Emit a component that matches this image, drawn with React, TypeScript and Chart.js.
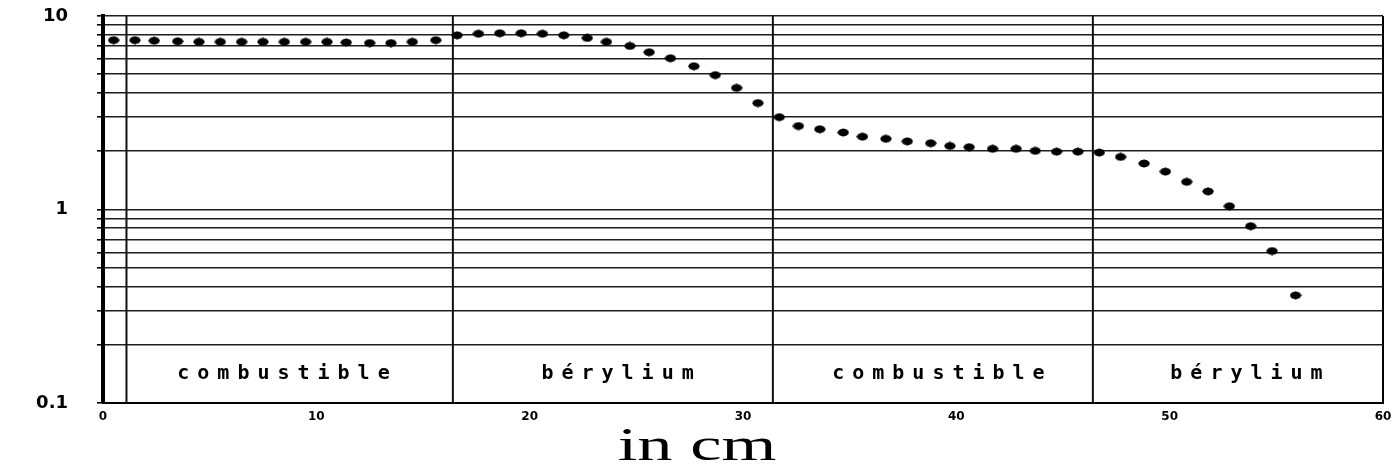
import { useEffect, useRef } from 'react';
import { Chart, registerables } from 'chart.js';

Chart.register(...registerables);

// Position along the core (cm)
const positionsCm = [
  0.5, 1.5, 2.4, 3.5, 4.5, 5.5, 6.5, 7.5, 8.5, 9.5, 10.5, 11.4, 12.5, 13.5, 14.5, 15.6,
  16.6, 17.6, 18.6, 19.6, 20.6, 21.6, 22.7, 23.6, 24.7, 25.6,
  26.6, 27.7, 28.7, 29.7, 30.7, 31.7, 32.6, 33.6, 34.7, 35.6,
  36.7, 37.7, 38.8, 39.7, 40.6, 41.7, 42.8, 43.7, 44.7, 45.7,
  46.7, 47.7, 48.8, 49.8, 50.8, 51.8, 52.8, 53.8, 54.8, 55.9,
];

// Measured values (log scale)
const values = [
  7.5, 7.5, 7.45, 7.4, 7.35, 7.35, 7.35, 7.35, 7.35, 7.35, 7.35, 7.3, 7.25, 7.25, 7.35, 7.5,
  7.95, 8.1, 8.15, 8.15, 8.1, 7.95, 7.7, 7.35, 7.0, 6.5,
  6.05, 5.5, 4.95, 4.25, 3.55, 3.0, 2.7, 2.6, 2.5, 2.38,
  2.32, 2.25, 2.2, 2.13, 2.1, 2.06, 2.06, 2.01, 1.99, 1.99,
  1.97, 1.87, 1.73, 1.57, 1.39, 1.24, 1.04, 0.82, 0.61, 0.36,
];

// Region boundaries (cm) and region labels
const boundariesCm = [1.1, 16.4, 31.4, 46.4];
const regionLabels = ['combustible', 'bérylium', 'combustible', 'bérylium'];
const regionLabelCm = [8.46, 24.12, 39.16, 53.6];
const regionLabelValue = 0.133;

// Axes
const yGridValues = [0.1, 0.2, 0.3, 0.4, 0.5, 0.6, 0.7, 0.8, 0.9, 1, 2, 3, 4, 5, 6, 7, 8, 9, 10];
const yLabelledValues = [0.1, 1, 10];
const xTickValues = [0, 10, 20, 30, 40, 50, 60];
const xTitle = 'in cm';

function makeMarker(): HTMLCanvasElement {
  const c = document.createElement('canvas');
  c.width = 12;
  c.height = 9;
  const g = c.getContext('2d')!;
  g.fillStyle = '#000';
  g.beginPath();
  g.ellipse(6, 4.5, 5.5, 3.8, 0, 0, Math.PI * 2);
  g.fill();
  g.beginPath();
  g.moveTo(0.2, 4.5);
  g.lineTo(6, 0.3);
  g.lineTo(11.8, 4.5);
  g.lineTo(6, 8.7);
  g.closePath();
  g.fill();
  return c;
}

const annotationPlugin = {
  id: 'annotationPlugin',
  afterDatasetsDraw(chart: any) {
    const { ctx, scales } = chart;
    const xs = scales.x;
    const ys = scales.y;
    ctx.save();
    ctx.fillStyle = '#000';
    ctx.font = 'bold 20px "DejaVu Sans Mono"';
    ctx.textAlign = 'center';
    ctx.textBaseline = 'alphabetic';
    const spacing = 8;
    (ctx as any).letterSpacing = spacing + 'px';
    regionLabels.forEach((label, i) => {
      const px = xs.getPixelForValue(regionLabelCm[i]);
      const py = ys.getPixelForValue(regionLabelValue);
      ctx.fillText(label, px + spacing / 2, py);
    });
    ctx.restore();
  },
  afterDraw(chart: any) {
    const { ctx } = chart;
    ctx.save();
    ctx.fillStyle = '#000';
    ctx.font = '47px "Liberation Serif"';
    ctx.textAlign = 'center';
    ctx.textBaseline = 'alphabetic';
    ctx.translate(697, 460);
    ctx.scale(1.5, 1);
    ctx.fillText(xTitle, 0, 0);
    ctx.restore();
  },
};

export default function App() {
  const canvasRef = useRef<HTMLCanvasElement | null>(null);

  useEffect(() => {
    const canvas = canvasRef.current;
    if (!canvas) return;
    const marker = makeMarker();

    const points = positionsCm.map((x, i) => ({ x, y: values[i] }));
    const boundaryDatasets = boundariesCm.map((b) => ({
      data: [
        { x: b, y: 0.1 },
        { x: b, y: 10 },
      ],
      showLine: true,
      borderColor: '#111',
      borderWidth: 2,
      pointRadius: 0,
      pointHoverRadius: 0,
    }));

    const chart = new Chart(canvas, {
      type: 'scatter',
      data: {
        datasets: [
          {
            data: points,
            pointStyle: marker as any,
            pointRadius: 5,
            backgroundColor: '#000',
            borderColor: '#000',
          },
          ...boundaryDatasets,
        ] as any,
      },
      options: {
        animation: false,
        responsive: false,
        events: [],
        layout: { padding: { top: 16, right: 9, left: 0, bottom: 0 } },
        plugins: {
          legend: { display: false },
          tooltip: { enabled: false },
        },
        scales: {
          x: {
            type: 'linear',
            min: 0,
            max: 60,
            afterBuildTicks: (scale: any) => {
              scale.ticks = xTickValues.map((v) => ({ value: v }));
            },
            afterFit: (scale: any) => {
              scale.height = 61;
              scale.paddingLeft = 0;
              scale.paddingRight = 0;
            },
            grid: {
              display: true,
              drawTicks: false,
              lineWidth: 2,
              color: (c: any) => (c.tick && c.tick.value === 60 ? '#000' : 'rgba(0,0,0,0)'),
            },
            border: { display: true, color: '#000', width: 2 },
            ticks: {
              autoSkip: false,
              maxRotation: 0,
              padding: 7,
              color: '#000',
              font: { family: '"DejaVu Sans"', size: 12, weight: 'bold' },
              callback: (v: any) => String(v),
            },
          },
          y: {
            type: 'logarithmic',
            min: 0.1,
            max: 10,
            afterBuildTicks: (scale: any) => {
              scale.ticks = yGridValues.map((v) => ({ value: v }));
            },
            afterFit: (scale: any) => {
              scale.width = 103;
              scale.paddingTop = 0;
              scale.paddingBottom = 0;
            },
            grid: {
              display: true,
              drawTicks: true,
              tickLength: 6,
              tickColor: '#000',
              lineWidth: 1.6,
              color: '#1e1e1e',
            },
            border: { display: true, color: '#000', width: 4 },
            ticks: {
              autoSkip: false,
              padding: 29,
              color: '#000',
              font: { family: '"DejaVu Sans"', size: 18, weight: 'bold' },
              callback: (v: any) => (yLabelledValues.includes(Number(v)) ? String(v) : ''),
            },
          },
        },
      },
      plugins: [annotationPlugin],
    });

    return () => chart.destroy();
  }, []);

  return (
    <div style={{ position: 'absolute', left: 0, top: 0, width: 1392, height: 464, background: '#fff' }}>
      <canvas ref={canvasRef} width={1392} height={464} style={{ display: 'block' }} />
    </div>
  );
}
